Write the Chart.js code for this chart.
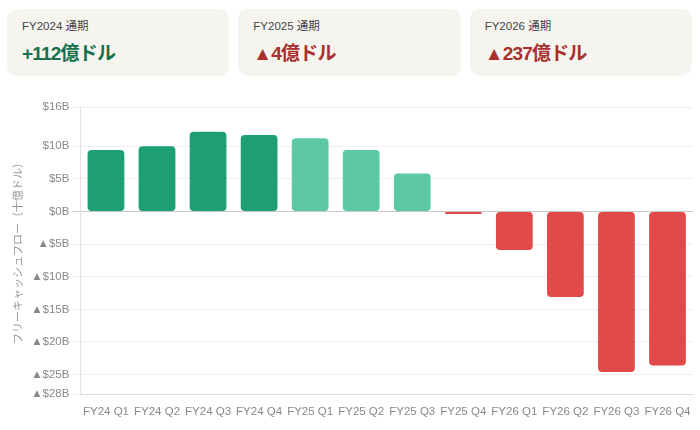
<!DOCTYPE html>
<html lang="ja">
<head>
<meta charset="utf-8">
<script src="https://cdn.jsdelivr.net/npm/chart.js@4.4.1/dist/chart.umd.min.js"></script>
<style>
  body { margin: 0; background: #fff; font-family: "Liberation Sans", Arial, "Noto Sans CJK JP", sans-serif; }
  .cards { display: flex; gap: 9px; padding: 9px 8px 0 7px; }
  .card { flex: 1; height: 67px; background: #f5f4ef; border-radius: 10px; box-sizing: border-box; padding: 8px 15px; }
  .card .label { font-size: 11.5px; color: #444; font-family: "Liberation Sans", "Noto Sans CJK JP", sans-serif; }
  .card .value { font-size: 19px; margin-top: 5px; font-weight: 600; font-family: "Liberation Sans", "Noto Sans CJK JP", sans-serif; letter-spacing: -0.8px; }
  .pos { color: #15704e; }
  .neg { color: #a8302f; }
  .chart-box { position: relative; width: 700px; height: 342px; margin-top: 12px; }
</style>
</head>
<body>
<div class="cards" id="cards"></div>
<div class="chart-box"><canvas id="myChart"></canvas></div>
<script>
const summaryLabels = ["FY2024 通期", "FY2025 通期", "FY2026 通期"];
const summaryValues = ["+112億ドル", "▲4億ドル", "▲237億ドル"];

const quarters = ["FY24 Q1", "FY24 Q2", "FY24 Q3", "FY24 Q4",
                  "FY25 Q1", "FY25 Q2", "FY25 Q3", "FY25 Q4",
                  "FY26 Q1", "FY26 Q2", "FY26 Q3", "FY26 Q4"];
const fcf = [9.4, 10.0, 12.2, 11.7, 11.2, 9.4, 5.8, -0.4, -5.9, -13.1, -24.6, -23.6];
const yTicks = [16, 10, 5, 0, -5, -10, -15, -20, -25, -28];

const cards = document.getElementById("cards");
summaryLabels.forEach((lab, i) => {
  const v = summaryValues[i];
  const div = document.createElement("div");
  div.className = "card";
  div.innerHTML = `<div class="label">${lab}</div><div class="value ${v.startsWith("▲") ? "neg" : "pos"}">${v}</div>`;
  cards.appendChild(div);
});

const barColor = (i) => {
  if (fcf[i] < 0) return "#e24a4a";
  return quarters[i].startsWith("FY24") ? "#1d9e74" : "#5cc9a4";
};

Chart.defaults.font.family = "'Liberation Sans', Arial, 'Noto Sans CJK JP', sans-serif";

const ctx = document.getElementById("myChart");
const myChart = new Chart(ctx, {
  type: "bar",
  data: {
    labels: quarters,
    datasets: [
      {
        data: fcf,
        backgroundColor: quarters.map((q, i) => barColor(i)),
        borderRadius: 4,
        borderSkipped: false,
      },
    ],
  },
  options: {
    responsive: true,
    maintainAspectRatio: false,
    animation: false,
    layout: { padding: { right: 7, top: 19, bottom: 8, left: 7 } },
    plugins: { legend: { display: false }, tooltip: { enabled: false } },
    scales: {
      x: {
        grid: { display: false },
        border: { display: true, color: "#dddddd" },
        ticks: { color: "#888", font: { size: 11.5 }, maxRotation: 0, autoSkip: false },
      },
      y: {
        min: -28,
        max: 16,
        afterBuildTicks: (axis) => {
          axis.ticks = yTicks.map((v) => ({ value: v }));
        },
        grid: {
          color: (c) => (c.tick && c.tick.value === 0 ? "#c8c8c8" : "#eeeeee"),
        },
        border: { color: "#e4e4e4" },
        ticks: {
          color: "#888",
          font: { size: 11.5 },
          callback: (v) => (v < 0 ? "▲$" + -v + "B" : "$" + v + "B"),
        },
        title: {
          display: true,
          text: "フリーキャッシュフロー（十億ドル）",
          color: "#999",
          font: { size: 11, family: "'Noto Sans CJK JP', sans-serif" },
        },
      },
    },
  },
});
</script>
</body>
</html>
